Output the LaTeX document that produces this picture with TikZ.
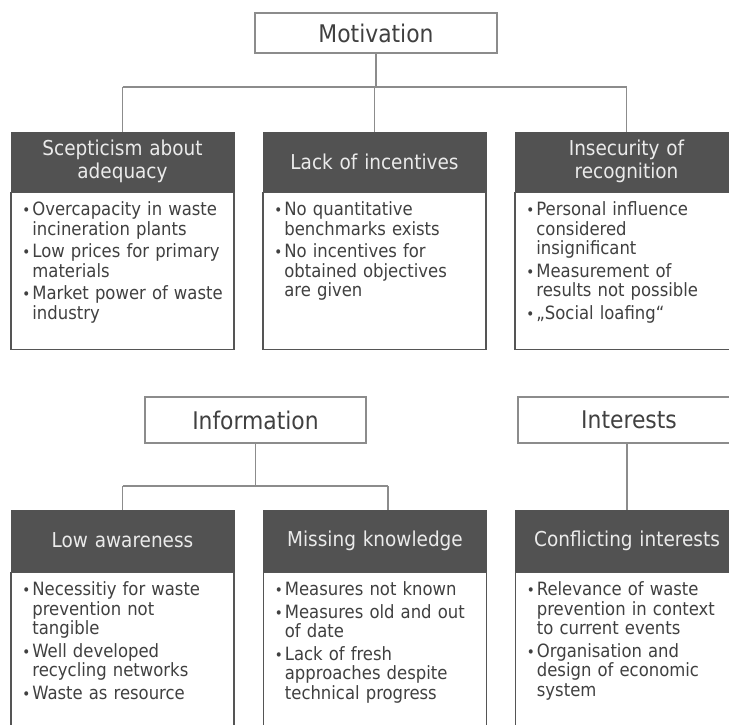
\documentclass[tikz,border=0pt]{standalone}
\usepackage{fontspec}
\setmainfont{DejaVu Sans Condensed}
\definecolor{hdr}{HTML}{525252}
\definecolor{hdrtxt}{HTML}{EBEBEB}
\definecolor{txt}{HTML}{404040}
\definecolor{conn}{HTML}{8C8C8C}
\definecolor{lbord}{HTML}{8C8C8C}
\definecolor{bbord}{HTML}{555555}
\newcommand{\bitem}[1]{\hangindent=10pt\hangafter=1\noindent\makebox[10pt][l]{\fontsize{15}{15}\selectfont\raisebox{0pt}{•}}#1\par}
\begin{document}
\begin{tikzpicture}[x=1pt,y=-1pt,
  connline/.style={draw=conn,line width=1.1pt},
  topbox/.style={draw=lbord,line width=1.1pt,fill=white,minimum width=242pt,minimum height=40pt,inner sep=0pt,font=\fontsize{24.3}{26}\selectfont,text=txt},
  hdrbox/.style={fill=hdr,draw=hdr,line width=1pt,minimum width=223pt,minimum height=59pt,text width=215pt,align=center,inner sep=0pt,font=\fontsize{20.5}{22.5}\selectfont,text=hdrtxt},
  bodybox/.style={draw=bbord,line width=1.6pt,fill=white,minimum width=223pt,anchor=north,inner sep=0pt},
  bodytext/.style={anchor=north west,text width=214pt,align=left,inner sep=0pt,font=\fontsize{18.3}{19.5}\selectfont\setlength{\parskip}{3pt},text=txt}]
\useasboundingbox (0,0) rectangle (729,725);
\clip (0,0) rectangle (729,725);
\fill[white] (0,0) rectangle (729,725);

% ---- top group
\node[topbox] (mot) at (376,33) {Motivation};
\node[hdrbox] (h1) at (122.5,161.5) {Scepticism about\\adequacy};
\node[hdrbox] (h2) at (374.5,161.5) {Lack of incentives};
\node[hdrbox] (h3) at (626.5,161.5) {Insecurity of\\recognition};
\node[bodybox,minimum height=157pt] (b1) at (h1.south) {};
\node[bodybox,minimum height=157pt] (b2) at (h2.south) {};
\node[bodybox,minimum height=157pt] (b3) at (h3.south) {};
\node[hdrbox] at (h1) {Scepticism about\\adequacy};
\node[hdrbox] at (h2) {Lack of incentives};
\node[hdrbox] at (h3) {Insecurity of\\recognition};

\coordinate (j1) at (376,87);
\draw[connline] (mot.south) -- (j1);
\draw[connline] (h1.north |- j1) -- (h3.north |- j1);
\draw[connline] (h1.north |- j1) -- (h1.north);
\draw[connline] (h2.north |- j1) -- (h2.north);
\draw[connline] (h3.north |- j1) -- (h3.north);

\node[bodytext] (t1) at ([xshift=12pt,yshift=-10pt]b1.north west) {%
\bitem{Overcapacity in waste\newline incineration plants}
\bitem{Low prices for primary\newline materials}
\bitem{Market power of waste\newline industry}};
\node[bodytext] (t2) at ([xshift=12pt,yshift=-10pt]b2.north west) {%
\bitem{No quantitative\newline benchmarks exists}
\bitem{No incentives for\newline obtained objectives\newline are given}};
\node[bodytext] (t3) at ([xshift=12pt,yshift=-10pt]b3.north west) {%
\bitem{Personal influence\newline considered\newline insignificant}
\bitem{Measurement of\newline results not possible}
\bitem{„Social loafing“}};

% ---- bottom groups
\node[topbox,minimum width=221pt,minimum height=46pt] (inf) at (255.5,420) {Information};
\node[topbox,minimum width=222pt,minimum height=46pt] (int) at (629,420) {Interests};
\node[hdrbox,minimum height=61pt] (h4) at (122.5,540.5) {Low awareness};
\node[hdrbox,minimum height=61pt] (h5) at (375,540.5) {Missing knowledge};
\node[hdrbox,minimum height=61pt] (h6) at (627,540.5) {Conflicting interests};
\node[bodybox,minimum height=180pt] (b4) at (h4.south) {};
\node[bodybox,minimum height=180pt] (b5) at (h5.south) {};
\node[bodybox,minimum height=180pt] (b6) at (h6.south) {};
\node[hdrbox,minimum height=61pt] at (h4) {Low awareness};
\node[hdrbox,minimum height=61pt] at (h5) {Missing knowledge};
\node[hdrbox,minimum height=61pt] at (h6) {Conflicting interests};

\coordinate (j2) at (255.5,486);
\coordinate (k5) at (388,510);
\draw[connline] (inf.south) -- (j2);
\draw[connline] (h4.north |- j2) -- (k5 |- j2);
\draw[connline] (h4.north |- j2) -- (h4.north);
\draw[connline] (k5 |- j2) -- (k5);
\draw[connline] (int.south -| h6.north) -- (h6.north);

\node[bodytext] (t4) at ([xshift=12pt,yshift=-10pt]b4.north west) {%
\bitem{Necessitiy for waste\newline prevention not\newline tangible}
\bitem{Well developed\newline recycling networks}
\bitem{Waste as resource}};
\node[bodytext] (t5) at ([xshift=12pt,yshift=-10pt]b5.north west) {%
\bitem{Measures not known}
\bitem{Measures old and out\newline of date}
\bitem{Lack of fresh\newline approaches despite\newline technical progress}};
\node[bodytext] (t6) at ([xshift=12pt,yshift=-10pt]b6.north west) {%
\bitem{Relevance of waste\newline prevention in context\newline to current events}
\bitem{Organisation and\newline design of economic\newline system}};
\end{tikzpicture}
\end{document}
